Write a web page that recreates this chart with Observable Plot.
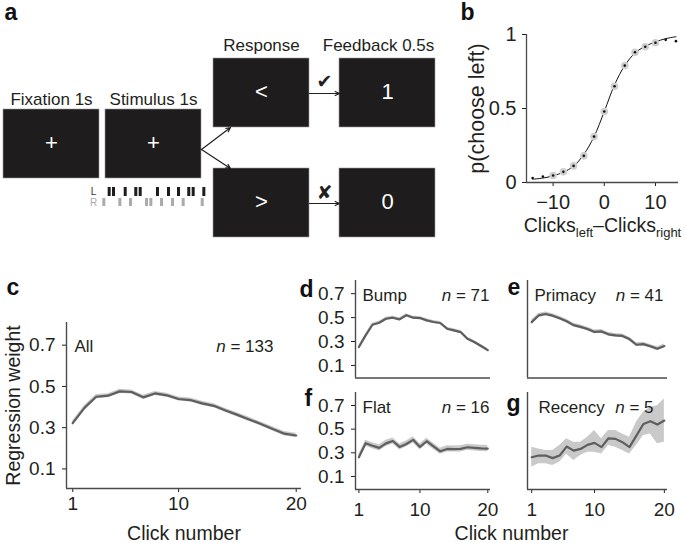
<!DOCTYPE html>
<html>
<head>
<meta charset="utf-8">
<script src="https://cdn.jsdelivr.net/npm/d3@7"></script>
<script src="https://cdn.jsdelivr.net/npm/@observablehq/plot@0.6"></script>
<style>
  body { margin: 0; background: #fff; }
  #fig { position: relative; width: 685px; height: 543px; background: #fff; }
  #fig svg { position: absolute; left: 0; top: 0; overflow: visible; }
</style>
</head>
<body>
<div id="fig"></div>
<script>
// ---------------- DATA ----------------
// Panel a: task schematic
const stageTitles = ["Fixation 1s", "Stimulus 1s", "Response", "Feedback 0.5s"];
const screenSymbols = ["+", "+", "<", "1", ">", "0"];
const outcomeMarks = ["\u2714", "\u2718"];
const trainLabels = ["L", "R"];
const clickTimesLeft = [80, 125, 247, 357, 403, 583, 698, 802, 909, 955, 1066];   // ms
const clickTimesRight = [24, 191, 302, 469, 514, 625, 740, 851, 1049];           // ms

// Panel b: psychometric curve
const clickDiff = [-14, -12, -10, -8, -6, -4, -2, 0, 2, 4, 6, 8, 10, 12, 14];
const pChooseLeft = [0.03, 0.04, 0.047, 0.072, 0.112, 0.18, 0.31, 0.48, 0.65, 0.79, 0.88, 0.917, 0.944, 0.964, 0.955];
const pFit = [0.022, 0.03, 0.045, 0.07, 0.11, 0.19, 0.31, 0.48, 0.66, 0.79, 0.875, 0.92, 0.95, 0.972, 0.985];
const bTicksX = [-10, 0, 10];
const bTicksY = [0, 0.5, 1];

// Panels c-g: regression weights per click
const clickNumber = [1, 2, 3, 4, 5, 6, 7, 8, 9, 10, 11, 12, 13, 14, 15, 16, 17, 18, 19, 20];
const groupNames = ["All", "Bump", "Primacy", "Flat", "Recency"];
const groupN = [133, 71, 41, 16, 5];
const weightAll = [0.322, 0.396, 0.45, 0.455, 0.476, 0.473, 0.447, 0.466, 0.457, 0.439, 0.434, 0.418, 0.406, 0.383, 0.362, 0.34, 0.318, 0.294, 0.271, 0.262];
const seAll = [0.011, 0.011, 0.011, 0.01, 0.01, 0.01, 0.01, 0.01, 0.01, 0.01, 0.01, 0.01, 0.01, 0.01, 0.01, 0.01, 0.01, 0.01, 0.011, 0.011];
const weightBump = [0.254, 0.351, 0.44, 0.457, 0.49, 0.499, 0.485, 0.519, 0.499, 0.496, 0.477, 0.463, 0.455, 0.407, 0.393, 0.379, 0.323, 0.296, 0.262, 0.228];
const seBump = [0.013, 0.013, 0.013, 0.013, 0.013, 0.013, 0.013, 0.013, 0.013, 0.013, 0.013, 0.013, 0.013, 0.013, 0.013, 0.013, 0.013, 0.013, 0.013, 0.013];
const weightPrimacy = [0.462, 0.518, 0.53, 0.516, 0.495, 0.47, 0.437, 0.422, 0.404, 0.38, 0.384, 0.36, 0.351, 0.347, 0.32, 0.273, 0.278, 0.26, 0.24, 0.262];
const sePrimacy = [0.017, 0.017, 0.016, 0.016, 0.016, 0.016, 0.016, 0.016, 0.016, 0.016, 0.016, 0.016, 0.016, 0.016, 0.016, 0.016, 0.016, 0.016, 0.017, 0.017];
const weightFlat = [0.263, 0.381, 0.36, 0.342, 0.38, 0.4, 0.35, 0.375, 0.41, 0.35, 0.398, 0.355, 0.313, 0.333, 0.332, 0.333, 0.347, 0.342, 0.338, 0.336];
const seFlat = [0.026, 0.026, 0.026, 0.026, 0.026, 0.026, 0.026, 0.026, 0.026, 0.026, 0.026, 0.026, 0.026, 0.026, 0.026, 0.026, 0.026, 0.026, 0.026, 0.026];
const weightRecency = [0.263, 0.277, 0.277, 0.255, 0.277, 0.353, 0.319, 0.333, 0.367, 0.384, 0.348, 0.423, 0.418, 0.39, 0.348, 0.446, 0.544, 0.567, 0.539, 0.573];
const lowRecency = [0.179, 0.207, 0.207, 0.193, 0.221, 0.291, 0.235, 0.277, 0.305, 0.305, 0.291, 0.362, 0.348, 0.319, 0.291, 0.362, 0.446, 0.46, 0.376, 0.39];
const highRecency = [0.348, 0.333, 0.319, 0.319, 0.362, 0.418, 0.39, 0.39, 0.432, 0.488, 0.418, 0.488, 0.488, 0.46, 0.432, 0.559, 0.643, 0.685, 0.699, 0.755];
const weightTicks = [0.1, 0.3, 0.5, 0.7];
const clickTicks = [1, 10, 20];
const panelLetters = ["a", "b", "c", "d", "e", "f", "g"];

// ---------------- STYLE / LAYOUT ----------------
const W = 685, H = 543;
const FONT = '"Liberation Sans", Arial, Helvetica, sans-serif';
const INK = "#231f20";
const AXIS = "#4a4a4a";
const LINE = "#5e5e5e";
const BAND = "#c9c9c9";
const baseStyle = {background: "transparent", overflow: "visible", fontFamily: FONT, fontSize: "19px", color: INK};
const fig = document.getElementById("fig");

function italicN(svg) {
  svg.querySelectorAll("text").forEach(el => {
    const s = el.textContent;
    if (/^n = \d+$/.test(s)) {
      const t = d3.select(el); t.text(null);
      t.append("tspan").attr("font-style", "italic").text("n");
      t.append("tspan").text(s.slice(1));
    }
  });
}

// ---------------- PANEL a (schematic, pixel layout) ----------------
const boxW = 96, boxH = 69;
const boxOrigins = [[3, 109], [105, 109], [213, 58], [339, 58], [213, 168], [339, 168]];
const screens = screenSymbols.map((s, i) => ({sym: s, x: boxOrigins[i][0], y: boxOrigins[i][1]}));
const titlePos = [[51, 99], [153, 99], [261, 45], [378, 45]];
const titles = stageTitles.map((t, i) => ({t, x: titlePos[i][0], y: titlePos[i][1]}));
const arrows = [
  {x1: 201, y1: 149, x2: 230, y2: 127}, {x1: 201, y1: 149, x2: 230, y2: 168},
  {x1: 309, y1: 93, x2: 339, y2: 93}, {x1: 309, y1: 203, x2: 339, y2: 203}
];
const outcomes = outcomeMarks.map((m, i) => ({m, x: 324, y: [81, 192][i]}));
const msToPx = 0.096, trainX0 = 100;
const clicksL = clickTimesLeft.map(t => ({x: trainX0 + t * msToPx}));
const clicksR = clickTimesRight.map(t => ({x: trainX0 + t * msToPx}));
const letterPos = [[4, 12.6], [460, 12.6], [6, 287.6], [299, 289.6], [507, 287.6], [304, 398.6], [506, 403.6]];
const letters = panelLetters.map((l, i) => ({l, x: letterPos[i][0], y: letterPos[i][1]}));

const pa = Plot.plot({
  width: W, height: H, margin: 0,
  x: {domain: [0, W], range: [0, W], axis: null},
  y: {domain: [0, H], range: [0, H], axis: null},
  style: baseStyle,
  marks: [
    Plot.rect(screens, {x1: "x", x2: d => d.x + boxW, y1: "y", y2: d => d.y + boxH, fill: "#1f1c1d", stroke: "#9a9a9a", strokeWidth: 0.6}),
    Plot.text(screens, {x: d => d.x + boxW / 2, y: d => d.y + boxH / 2 - 1, text: "sym", fill: "white", fontSize: 22}),
    Plot.text(titles, {x: "x", y: "y", text: "t", fill: INK, fontSize: 17}),
    Plot.arrow(arrows, {x1: "x1", y1: "y1", x2: "x2", y2: "y2", stroke: INK, strokeWidth: 1.2, headLength: 6, headAngle: 50}),
    Plot.text(outcomes, {x: "x", y: "y", text: "m", fill: INK, fontSize: 19, fontFamily: "DejaVu Sans"}),
    Plot.rect(clicksL, {x1: "x", x2: d => d.x + 3, y1: 187, y2: 196, fill: "#1f1c1d"}),
    Plot.rect(clicksR, {x1: "x", x2: d => d.x + 3, y1: 198, y2: 206, fill: "#ababab"}),
    Plot.text(trainLabels, {x: 93, y: (d, i) => [191, 202][i], text: d => d, fill: (d, i) => ["#333", "#aaa"][i], fontSize: 10}),
    Plot.text(letters, {x: "x", y: "y", text: "l", textAnchor: "start", fontSize: 23, fontWeight: "bold", fill: "#111"})
  ]
});
fig.appendChild(pa);

// ---------------- PANEL b ----------------
const bRows = clickDiff.map((x, i) => ({x, p: pChooseLeft[i], f: pFit[i]}));
const fmtMinus = d => d < 0 ? "\u2212" + Math.abs(d) : String(d);
const bX = [-15.2, 14.5];
const pb = Plot.plot({
  width: W, height: H,
  marginLeft: 526, marginRight: W - 678, marginTop: 34, marginBottom: H - 182,
  x: {domain: bX, ticks: bTicksX, tickSize: 4, tickPadding: 8, tickFormat: fmtMinus, label: null},
  y: {domain: [0, 1], ticks: bTicksY, tickSize: 4, tickPadding: 6, tickFormat: d => String(d), label: null},
  style: {...baseStyle, fontSize: "20px"},
  marks: [
    Plot.ruleX([bX[0]], {stroke: AXIS, strokeWidth: 1.3}),
    Plot.ruleY([0], {stroke: AXIS, strokeWidth: 1.3}),
    Plot.line(bRows, {x: "x", y: "f", stroke: "#111", strokeWidth: 1, curve: "catmull-rom"}),
    Plot.dot(bRows.filter(d => Math.abs(d.x) <= 10), {x: "x", y: "p", r: 3.8, fill: "#cfcfcf", stroke: "none"}),
    Plot.dot(bRows, {x: "x", y: "p", r: 1.3, fill: "#111", stroke: "none"}),
    Plot.text(["p(choose left)"], {frameAnchor: "left", dx: -49, rotate: -90, textAnchor: "middle", lineAnchor: "middle", fontSize: 21.5, fill: INK}),
    Plot.text(["CLICKDIFF"], {frameAnchor: "bottom", dy: 43, textAnchor: "middle", lineAnchor: "middle", fontSize: 19.5, fill: INK})
  ]
});
pb.querySelectorAll("text").forEach(el => {
  if (el.textContent === "CLICKDIFF") {
    const t = d3.select(el); t.text(null);
    t.append("tspan").text("Clicks");
    t.append("tspan").attr("dy", 5).attr("font-size", 13).text("left");
    t.append("tspan").attr("dy", -5).text("\u2013Clicks");
    t.append("tspan").attr("dy", 5).attr("font-size", 13).text("right");
  }
});
fig.appendChild(pb);

// ---------------- PANELS c-g ----------------
function weightPanel({xr, yr, xd, yd, v, lo, hi, name, n, showX, showY, extra = [], nDx, nameDx, labelDy = 15, xPad = 4}) {
  const rows = clickNumber.map((k, i) => ({k, v: v[i], lo: lo[i], hi: hi[i]}));
  const p = Plot.plot({
    width: W, height: H,
    marginLeft: xr[0], marginRight: W - xr[1], marginTop: yr[1], marginBottom: H - yr[0],
    x: showX ? {domain: xd, ticks: clickTicks, tickSize: 4, tickPadding: xPad, tickFormat: d => String(d), label: null}
             : {domain: xd, axis: null},
    y: showY ? {domain: yd, ticks: weightTicks, tickSize: 4, tickPadding: 7, tickFormat: d => d.toFixed(1), label: null}
             : {domain: yd, axis: null},
    style: baseStyle,
    marks: [
      Plot.areaY(rows, {x: "k", y1: "lo", y2: "hi", fill: BAND}),
      Plot.lineY(rows, {x: "k", y: "v", stroke: LINE, strokeWidth: 2.2}),
      Plot.ruleX([xd[0]], {stroke: AXIS, strokeWidth: 1.4}),
      Plot.ruleY([yd[0]], {stroke: AXIS, strokeWidth: 1.4}),
      Plot.text([name], {frameAnchor: "top-left", dx: nameDx, dy: labelDy, textAnchor: "start", lineAnchor: "middle", fontSize: 17, fill: INK}),
      Plot.text(["n = " + n], {frameAnchor: "top-right", dx: nDx, dy: labelDy, textAnchor: "end", lineAnchor: "middle", fontSize: 17, fill: INK}),
      ...extra
    ]
  });
  italicN(p);
  fig.appendChild(p);
  return p;
}
const lower = (v, se) => v.map((x, i) => x - se[i]);
const upper = (v, se) => v.map((x, i) => x + se[i]);

// c
weightPanel({xr: [66, 301], yr: [488, 322], xd: [0.47, 20.45], yd: [0.005, 0.81],
  v: weightAll, lo: lower(weightAll, seAll), hi: upper(weightAll, seAll),
  name: groupNames[0], n: groupN[0], showX: true, showY: true, nameDx: 8, nDx: -28, labelDy: 24, xPad: 4,
  extra: [
    Plot.text(["Regression weight"], {frameAnchor: "left", dx: -53, rotate: -90, textAnchor: "middle", lineAnchor: "middle", fontSize: 19.5, fill: INK}),
    Plot.text(["Click number"], {frameAnchor: "bottom", dy: 45, textAnchor: "middle", lineAnchor: "middle", fontSize: 19.5, fill: INK})
  ]});
// d
weightPanel({xr: [355, 490], yr: [377.5, 280], xd: [0.5, 20.4], yd: [-0.005, 0.81],
  v: weightBump, lo: lower(weightBump, seBump), hi: upper(weightBump, seBump),
  name: groupNames[1], n: groupN[1], showX: false, showY: true, nameDx: 7, nDx: -1});
// e
weightPanel({xr: [527, 667], yr: [377.5, 280], xd: [0.4, 20.45], yd: [-0.005, 0.81],
  v: weightPrimacy, lo: lower(weightPrimacy, sePrimacy), hi: upper(weightPrimacy, sePrimacy),
  name: groupNames[2], n: groupN[2], showX: false, showY: false, nameDx: 7, nDx: -4});
// f
weightPanel({xr: [355, 490], yr: [489, 392], xd: [0.5, 20.4], yd: [-0.01, 0.81],
  v: weightFlat, lo: lower(weightFlat, seFlat), hi: upper(weightFlat, seFlat),
  name: groupNames[3], n: groupN[3], showX: true, showY: true, nameDx: 7, nDx: -1, xPad: 9,
  extra: [Plot.text(["Click number"], {frameAnchor: "bottom", dx: 88.5, dy: 44, textAnchor: "middle", lineAnchor: "middle", fontSize: 19.5, fill: INK})]});
// g
weightPanel({xr: [527, 667], yr: [489, 392], xd: [0.4, 20.45], yd: [-0.01, 0.81],
  v: weightRecency, lo: lowRecency, hi: highRecency,
  name: groupNames[4], n: groupN[4], showX: true, showY: false, nameDx: 11, nDx: -14, xPad: 9});
</script>
</body>
</html>
